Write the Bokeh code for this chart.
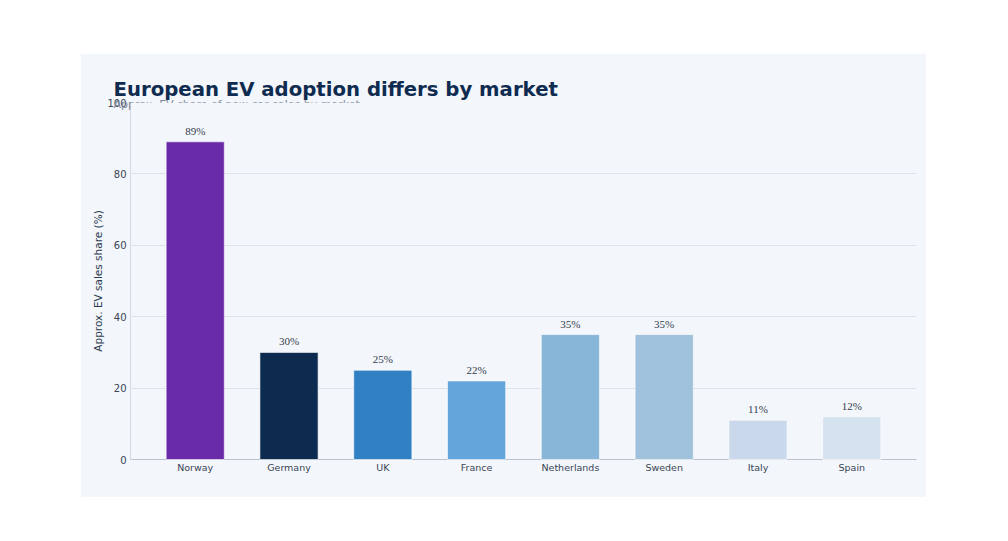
from bokeh.plotting import figure
from bokeh.models import (ColumnDataSource, FactorRange, Title, BoxAnnotation,
                          Spacer, LabelSet)
from bokeh.layouts import column, row
from bokeh.embed import file_html
from bokeh.resources import INLINE

countries = ["Norway", "Germany", "UK", "France", "Netherlands", "Sweden", "Italy", "Spain"]
shares = [89, 30, 25, 22, 35, 35, 11, 12]
bar_colors = ["#6a2ba8", "#0d2a4f", "#3080c3", "#62a6db", "#88b6d8", "#a0c1dc", "#c9d9eb", "#d5e2f0"]
value_labels = [f"{v}%" for v in shares]
y_ticks = [0, 20, 40, 60, 80, 100]

TITLE = "European EV adoption differs by market"
SUBTITLE = "Approx. EV share of new car sales by market"

BG = "#f3f6fb"
FONT = "DejaVu Sans"

src = ColumnDataSource(dict(country=countries, share=shares, color=bar_colors, label=value_labels))

p = figure(width=846, height=444, output_backend="svg", toolbar_location=None,
           x_range=FactorRange(factors=countries, range_padding=0.19, range_padding_units="absolute"),
           y_range=(0, 100),
           min_border_left=50, min_border_right=10, min_border_top=49, min_border_bottom=38,
           background_fill_color=BG, border_fill_color=BG, outline_line_color=None)

p.title.text = TITLE
p.title.text_font = FONT
p.title.text_font_size = "19.7px"
p.title.text_font_style = "bold"
p.title.text_color = "#0f2b50"
p.title.align = "left"
p.title.offset = -17
p.title.standoff = 3

# subtitle as a second title nearest the frame, partly hidden by the frame cover
subtitle = Title(text=SUBTITLE, text_font=FONT, text_font_size="11px", text_font_style="normal",
                 text_color="#7a8798", align="left", offset=-17, standoff=-17)
p.above = [subtitle] + list(p.above)

old_center = list(p.center)
for g in old_center:
    g.level = "annotation"
cover = BoxAnnotation(fill_color=BG, fill_alpha=1.0, line_alpha=0, level="annotation")
p.center = [cover] + old_center

bars = p.vbar(x="country", top="share", width=0.62, source=src, fill_color="color",
              line_color="white", line_alpha=0.6, line_width=1)
bars.level = "overlay"

labels = LabelSet(x="country", y="share", text="label", source=src, text_align="center",
                  text_baseline="bottom", y_offset=5, text_font=FONT, text_font_size="11px",
                  text_color="#333d4d", level="overlay")
p.add_layout(labels)

p.xgrid.grid_line_color = None
p.ygrid.grid_line_color = "#dde3eb"
p.ygrid.ticker = y_ticks
p.yaxis.ticker = y_ticks

p.yaxis.axis_label = "Approx. EV sales share (%)"
p.yaxis.axis_label_text_font = FONT
p.yaxis.axis_label_text_font_size = "10.5px"
p.yaxis.axis_label_text_font_style = "normal"
p.yaxis.axis_label_text_color = "#2b3a4f"
p.yaxis.axis_label_standoff = 0

for ax in (p.xaxis, p.yaxis):
    ax.major_label_text_font = FONT
    ax.major_label_text_color = "#3a4556"
    ax.major_tick_line_color = None
    ax.minor_tick_line_color = None
    ax.major_tick_out = 0
    ax.major_tick_in = 0
    ax.minor_tick_out = 0
p.yaxis.major_label_text_font_size = "10px"
p.xaxis.major_label_text_font_size = "9.5px"
p.yaxis.axis_line_color = "#c9cfd8"
p.xaxis.axis_line_color = "#a9b2bf"
p.yaxis.major_label_standoff = 4
p.xaxis.major_label_standoff = 2

layout = column(Spacer(height=53), row(Spacer(width=80), p))

open("out.html", "w").write(file_html(layout, INLINE))
